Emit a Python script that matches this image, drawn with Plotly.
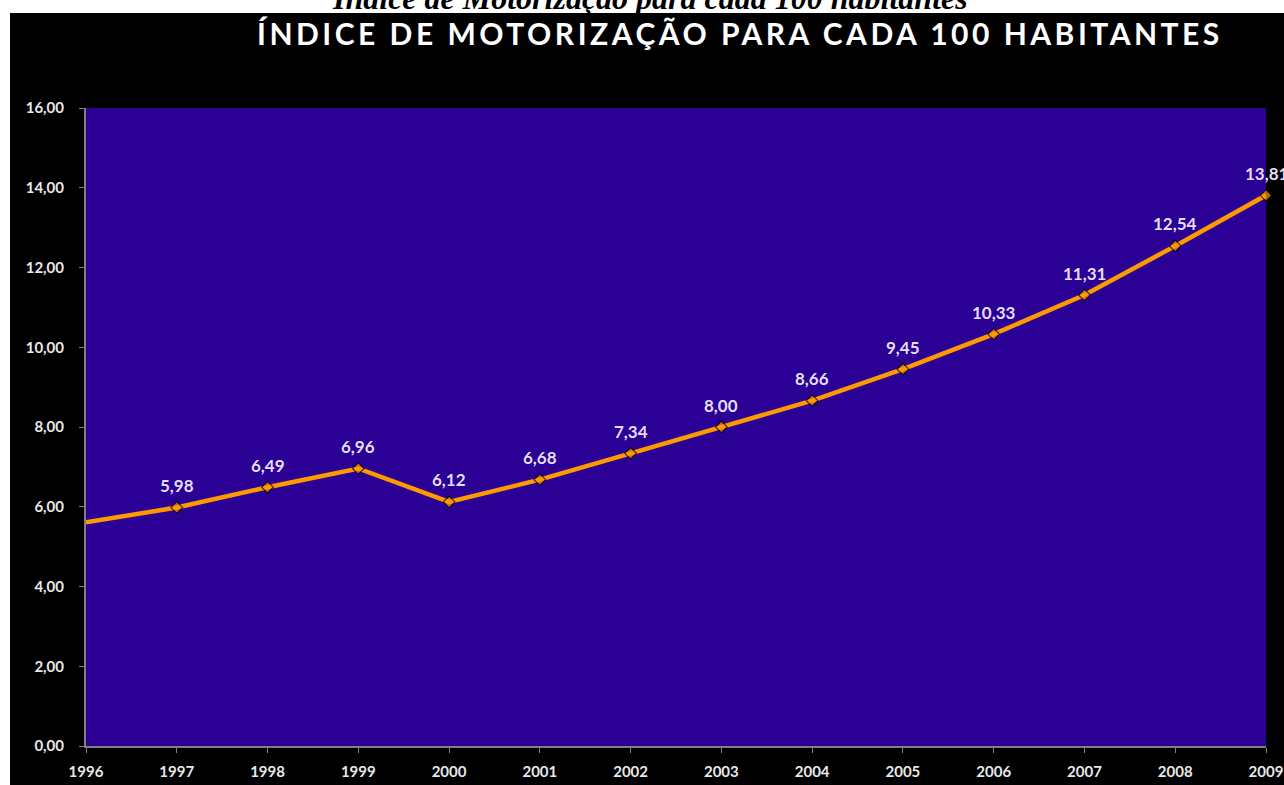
import plotly.graph_objects as go

years = [1996, 1997, 1998, 1999, 2000, 2001, 2002, 2003, 2004, 2005, 2006, 2007, 2008, 2009]
values = [5.61, 5.98, 6.49, 6.96, 6.12, 6.68, 7.34, 8.00, 8.66, 9.45, 10.33, 11.31, 12.54, 13.81]
labels = ["", "5,98", "6,49", "6,96", "6,12", "6,68", "7,34", "8,00", "8,66", "9,45", "10,33", "11,31", "12,54", "13,81"]
y_ticks = [0, 2, 4, 6, 8, 10, 12, 14, 16]

W, H = 1284, 785
ML, MR, MT, MB = 86, 18, 108, 39
PW, PH = W - ML - MR, H - MT - MB


def px_x(x):
    return (x - ML) / PW


def px_y(y):
    return (H - MB - y) / PH


marker_sizes = [0 if t == "" else 9 for t in labels]

fig = go.Figure()
fig.add_trace(go.Scatter(
    x=years, y=values, mode="lines+markers",
    line=dict(color="#FF9900", width=4.5),
    marker=dict(symbol="diamond", size=marker_sizes, color="#FF9900",
                line=dict(color="#000000", width=1.2)),
    cliponaxis=False, showlegend=False,
))

annotations = []
for x, y, t in zip(years, values, labels):
    if t:
        annotations.append(dict(x=x, y=y, text=t, showarrow=False, yshift=22,
                                font=dict(family="Lato", size=17, color="#E4DDF7", weight="bold")))

annotations.append(dict(xref="paper", yref="paper", x=px_x(650), y=px_y(-2),
                        text="Índice de Motorização para cada 100 habitantes",
                        showarrow=False, xanchor="center", yanchor="middle",
                        font=dict(family="Liberation Serif", size=32, color="#000000",
                                  style="italic", weight="bold")))
annotations.append(dict(xref="paper", yref="paper", x=px_x(740), y=px_y(33),
                        text='<span style="letter-spacing:3.5px">ÍNDICE DE MOTORIZAÇÃO PARA CADA 100 HABITANTES</span>',
                        showarrow=False, xanchor="center", yanchor="middle",
                        font=dict(family="Lato", size=30, color="#FFFFFF", weight="bold")))

shapes = [
    dict(type="rect", xref="paper", yref="paper", x0=px_x(0), x1=px_x(W), y0=px_y(13), y1=px_y(-40),
         fillcolor="#FFFFFF", line=dict(width=0), layer="below"),
    dict(type="rect", xref="paper", yref="paper", x0=px_x(0), x1=px_x(10), y0=px_y(H + 40), y1=px_y(0),
         fillcolor="#FFFFFF", line=dict(width=0), layer="below"),
]

axis_font = dict(family="Lato", size=15, color="#E8E8E8", weight="bold")

fig.update_layout(
    width=W, height=H,
    margin=dict(l=ML, r=MR, t=MT, b=MB),
    paper_bgcolor="#000000",
    plot_bgcolor="#2A0095",
    separators=",.",
    annotations=annotations,
    shapes=shapes,
    xaxis=dict(range=[1996, 2009], tickvals=years, ticktext=[str(y) for y in years],
               showgrid=False, zeroline=False, showline=True, linecolor="#808080", linewidth=2,
               ticks="outside", ticklen=5, tickcolor="#808080", ticklabelstandoff=6,
               automargin=False, tickfont=axis_font),
    yaxis=dict(range=[0, 16], tickvals=y_ticks, tickformat=".2f",
               showgrid=False, zeroline=False, showline=True, linecolor="#808080", linewidth=2,
               ticks="outside", ticklen=5, tickcolor="#808080", ticklabelstandoff=12,
               automargin=False, tickfont=axis_font),
)

fig.write_html("out.html", config={"displayModeBar": False},
               post_script="document.body.style.margin='0';document.body.style.overflow='hidden';")
